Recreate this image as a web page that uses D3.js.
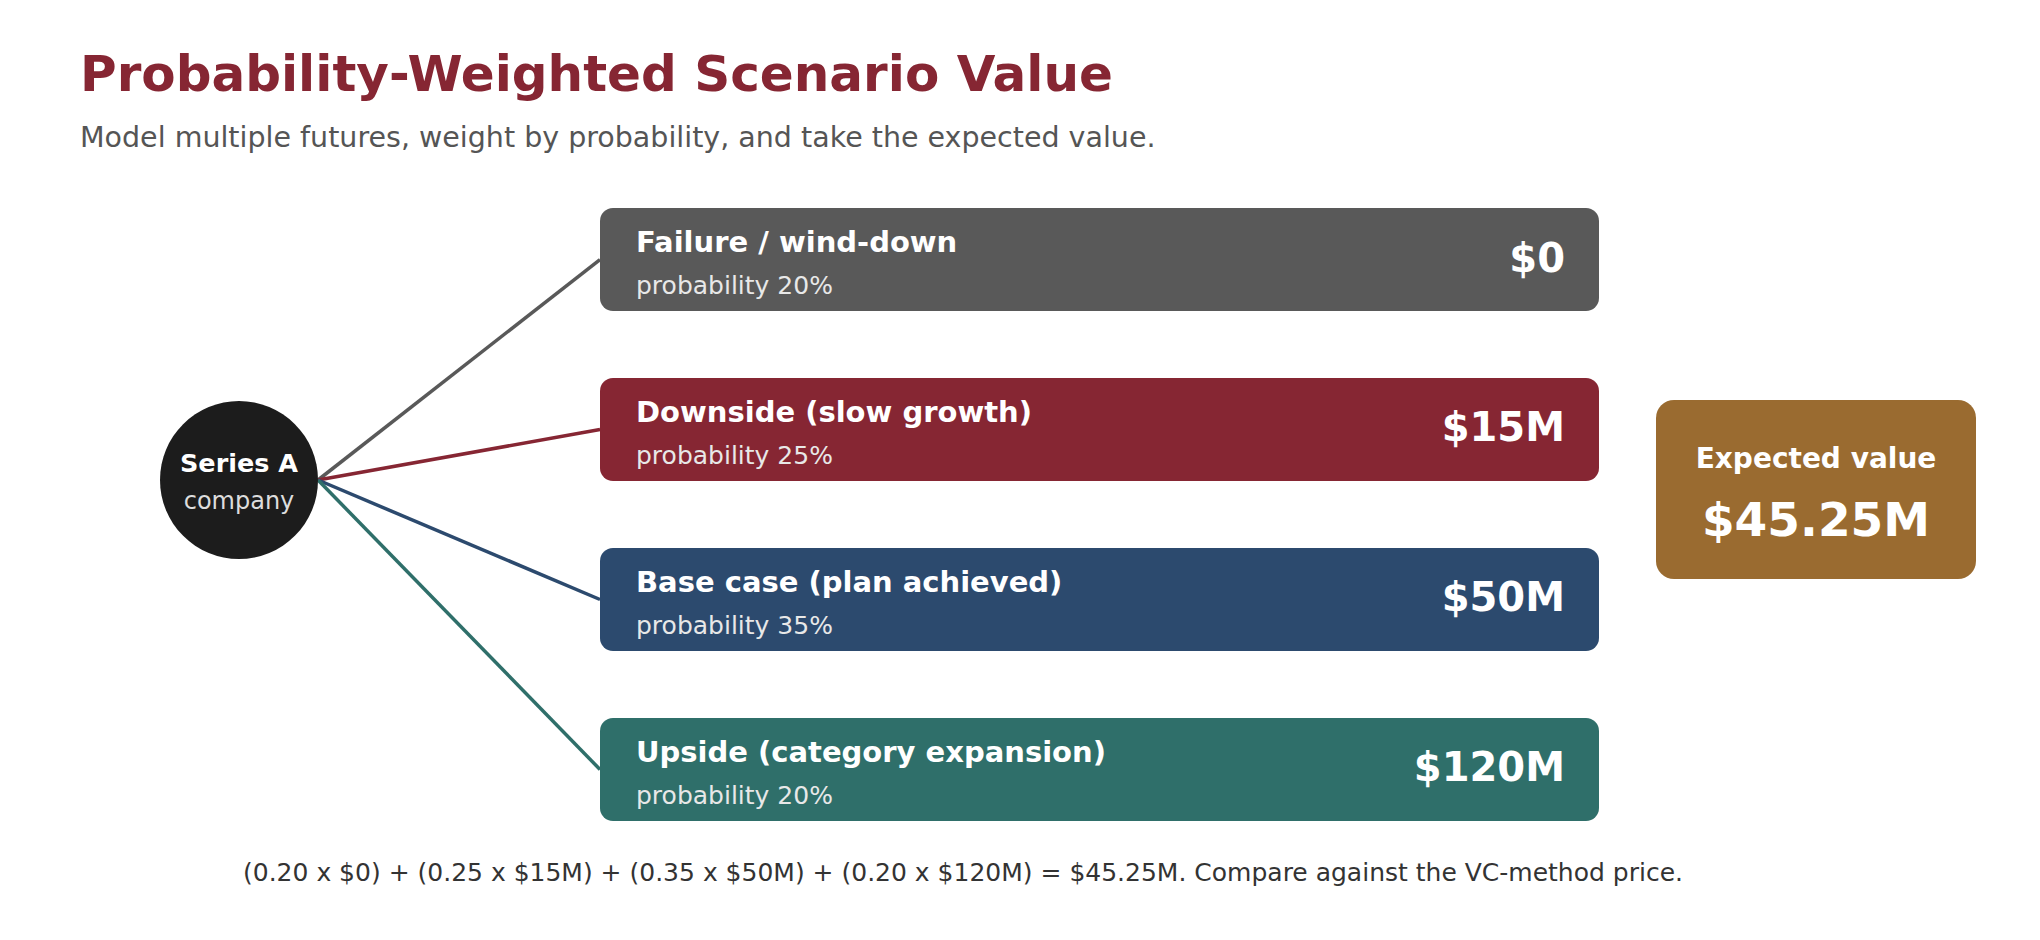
<!DOCTYPE html>
<html><head><meta charset="utf-8">
<script src="https://cdn.jsdelivr.net/npm/d3@7/dist/d3.min.js"></script>
<style>body{margin:0;background:#fff}svg{font-family:"DejaVu Sans",sans-serif}</style>
</head><body><svg id="c" width="2040" height="940"></svg>
<script>
const scenarios = ["Failure / wind-down","Downside (slow growth)","Base case (plan achieved)","Upside (category expansion)"];
const probabilities = [0.20,0.25,0.35,0.20];
const values = [0,15,50,120];
const colors = ["#595959","#862633","#2c4a6e","#2f6f6a"];
const expected = d3.sum(values, (v,i)=>v*probabilities[i]);

const svg = d3.select("#c");
svg.append("text").attr("x",80).attr("y",91).attr("font-size",50).attr("font-weight","bold").attr("fill","#862633").text("Probability-Weighted Scenario Value");
svg.append("text").attr("x",80).attr("y",147).attr("font-size",28.5).attr("fill","#555").text("Model multiple futures, weight by probability, and take the expected value.");

const y = d3.scaleBand().domain(scenarios).range([208,821]).paddingInner(0.394).paddingOuter(0);
const bx0=600, bx1=1599, cx=239, cy=480, r=79;
const fmt = v => "$" + (v===0?"0":v+"M");

svg.selectAll("line.link").data(scenarios).join("line")
  .attr("x1",cx+r).attr("y1",cy).attr("x2",bx0).attr("y2",d=>y(d)+y.bandwidth()/2)
  .attr("stroke",(d,i)=>colors[i]).attr("stroke-width",3.5);

const g = svg.selectAll("g.box").data(scenarios).join("g").attr("transform",d=>`translate(${bx0},${y(d)})`);
g.append("rect").attr("width",bx1-bx0).attr("height",y.bandwidth()).attr("rx",13).attr("fill",(d,i)=>colors[i]);
g.append("text").attr("x",36).attr("y",44).attr("font-size",29).attr("font-weight","bold").attr("fill","#fff").text(d=>d);
g.append("text").attr("x",36).attr("y",86).attr("font-size",25).attr("fill","#e8e8e8").text((d,i)=>"probability "+Math.round(probabilities[i]*100)+"%");
g.append("text").attr("x",bx1-bx0-34).attr("y",y.bandwidth()/2+12).attr("text-anchor","end").attr("font-size",40).attr("font-weight","bold").attr("fill","#fff").text((d,i)=>fmt(values[i]));

svg.append("circle").attr("cx",cx).attr("cy",cy).attr("r",r).attr("fill","#1c1c1c");
svg.append("text").attr("x",cx).attr("y",472).attr("text-anchor","middle").attr("font-size",25.5).attr("font-weight","bold").attr("fill","#fff").text("Series A");
svg.append("text").attr("x",cx).attr("y",509).attr("text-anchor","middle").attr("font-size",24).attr("fill","#ddd").text("company");

svg.append("rect").attr("x",1656).attr("y",400).attr("width",320).attr("height",179).attr("rx",18).attr("fill","#9a6b30");
svg.append("text").attr("x",1816).attr("y",468).attr("text-anchor","middle").attr("font-size",28).attr("font-weight","bold").attr("fill","#fff").text("Expected value");
svg.append("text").attr("x",1816).attr("y",536).attr("text-anchor","middle").attr("font-size",47).attr("font-weight","bold").attr("fill","#fff").text("$"+d3.format(".2f")(expected)+"M");

const terms = values.map((v,i)=>`(${probabilities[i].toFixed(2)} x ${fmt(v)})`).join(" + ");
svg.append("text").attr("x",963).attr("y",881).attr("text-anchor","middle").attr("font-size",25).attr("fill","#333")
  .text(`${terms} = $${d3.format(".2f")(expected)}M. Compare against the VC-method price.`);
</script></body></html>
